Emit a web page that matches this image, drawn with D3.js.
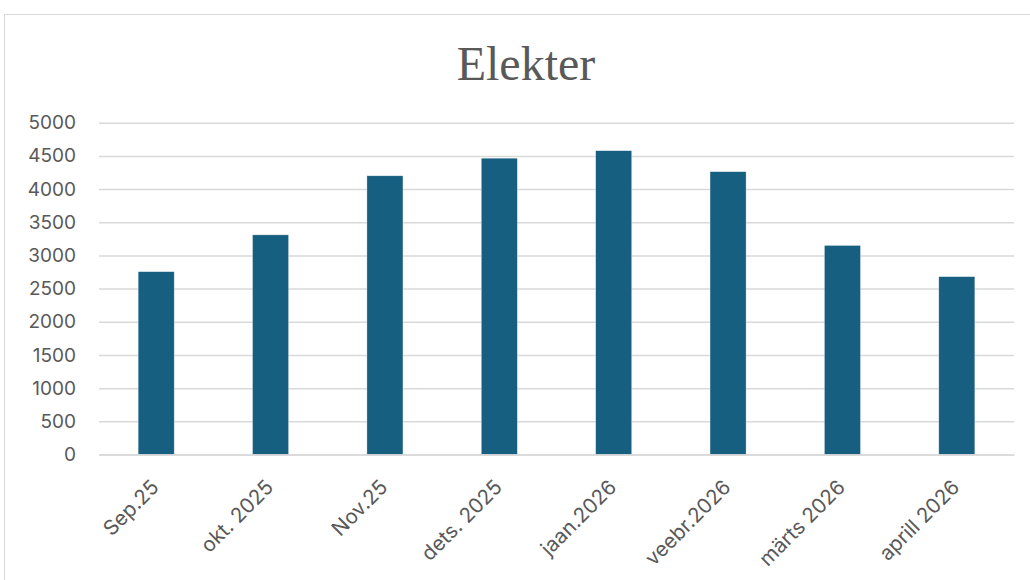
<!DOCTYPE html>
<html>
<head>
<meta charset="utf-8">
<script src="https://cdn.jsdelivr.net/npm/d3@7"></script>
<style>
  body { margin: 0; padding: 0; background: #ffffff; }
  svg { display: block; }
</style>
</head>
<body>
<div id="main"></div>
<script>
const months = ['Sep.25', 'okt. 2025', 'Nov.25', 'dets. 2025', 'jaan.2026', 'veebr.2026', 'märts 2026', 'aprill 2026'];
const values = [2755, 3310, 4200, 4465, 4578, 4262, 3150, 2680];
const yTicks = [0, 500, 1000, 1500, 2000, 2500, 3000, 3500, 4000, 4500, 5000];
const chartTitle = 'Elekter';

const WIDTH = 1030;
const HEIGHT = 580;
const LEFT = 99;
const RIGHT = 1014;
const TOP = 122.7;
const BOTTOM = 454.5;
const TEXTCOLOR = '#595959';
const GRIDCOLOR = '#d9d9d9';
const BARCOLOR = '#175f80';
const LABELFONT = 'Inter, "Open Sans", "Liberation Sans", sans-serif';

const svg = d3.select('#main').append('svg')
    .attr('width', WIDTH)
    .attr('height', HEIGHT);

// chart area frame (only left and top edges are inside the picture)
svg.append('rect')
    .attr('x', 4.5)
    .attr('y', 14.5)
    .attr('width', WIDTH + 10)
    .attr('height', HEIGHT + 10)
    .attr('fill', 'none')
    .attr('stroke', GRIDCOLOR)
    .attr('stroke-width', 1);

svg.append('text')
    .attr('x', 526)
    .attr('y', 80)
    .attr('text-anchor', 'middle')
    .attr('font-family', '"Liberation Serif", "Times New Roman", serif')
    .attr('font-size', 48)
    .attr('fill', TEXTCOLOR)
    .text(chartTitle);

const scaleX = d3.scaleBand()
    .domain(months)
    .range([LEFT, RIGHT])
    .paddingInner(0.685)
    .paddingOuter(0.3425);

const scaleY = d3.scaleLinear()
    .domain([0, 5000])
    .range([BOTTOM, TOP]);

// gridlines
const axisY = d3.axisLeft(scaleY)
    .tickValues(yTicks)
    .tickSize(-(RIGHT - LEFT))
    .tickPadding(23)
    .tickFormat(d3.format('d'));

const gy = svg.append('g')
    .attr('transform', `translate(${LEFT}, 0)`)
    .call(axisY);
gy.select('.domain').remove();
gy.selectAll('.tick line')
    .attr('stroke', GRIDCOLOR)
    .attr('stroke-width', 1.5);
gy.selectAll('.tick text')
    .attr('fill', TEXTCOLOR)
    .attr('font-family', LABELFONT)
    .attr('font-size', 19);

svg.selectAll('rect.bar')
    .data(values)
    .enter()
    .append('rect')
    .attr('class', 'bar')
    .attr('x', (d, i) => scaleX(months[i]))
    .attr('y', (d) => scaleY(d))
    .attr('width', scaleX.bandwidth())
    .attr('height', (d) => BOTTOM - scaleY(d))
    .attr('fill', BARCOLOR)
    .attr('stroke', '#ffffff')
    .attr('stroke-opacity', 0.5)
    .attr('stroke-width', 0.6);

const axisX = d3.axisBottom(scaleX).tickSize(0).tickPadding(0);
const gx = svg.append('g')
    .attr('transform', `translate(0, ${BOTTOM})`)
    .call(axisX);
gx.select('.domain')
    .attr('stroke', GRIDCOLOR)
    .attr('stroke-width', 1.5);
gx.selectAll('.tick text')
    .attr('fill', TEXTCOLOR)
    .attr('font-family', LABELFONT)
    .attr('font-size', 20.5)
    .attr('text-anchor', 'end')
    .attr('dy', 0)
    .attr('transform', 'translate(4, 34) rotate(-45)');
</script>
</body>
</html>
